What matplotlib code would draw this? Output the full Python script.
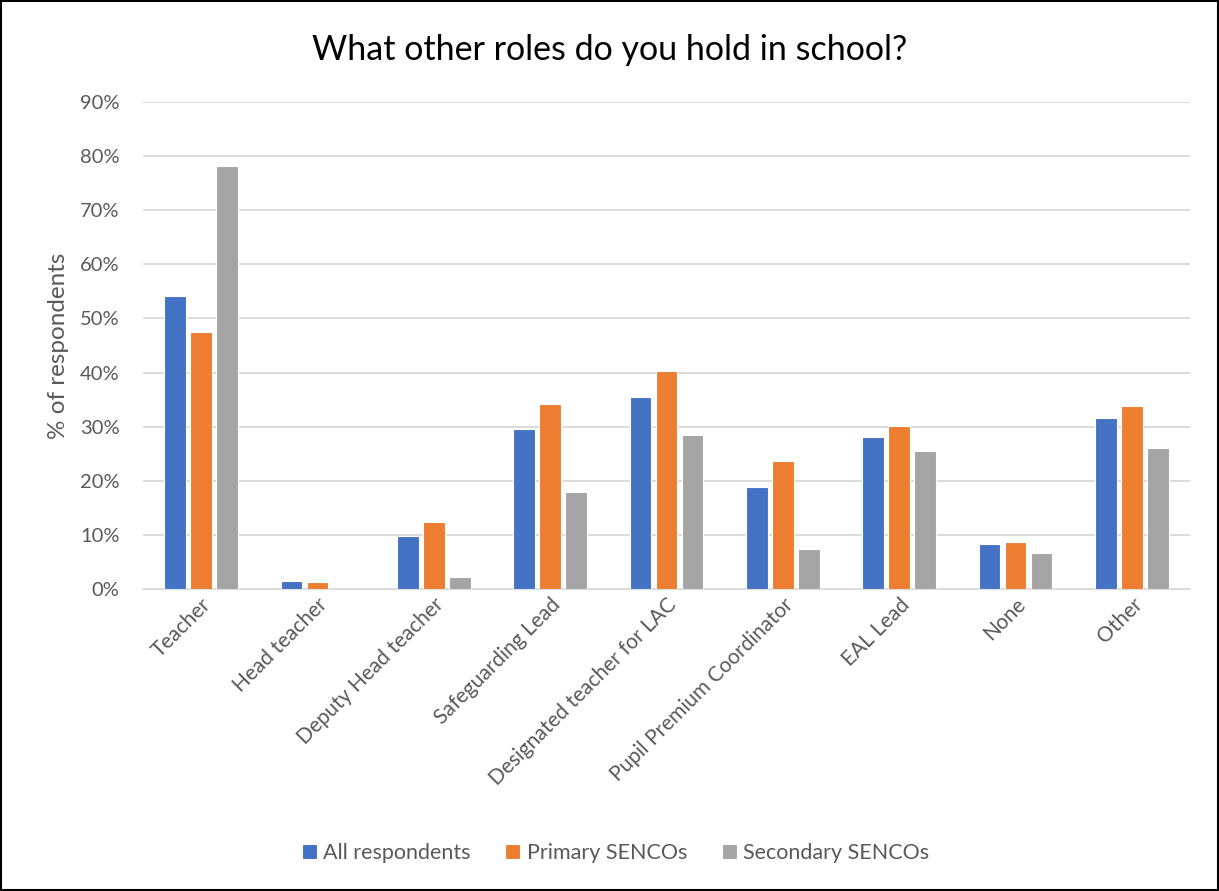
import numpy as np
import matplotlib.pyplot as plt
from matplotlib.patches import Rectangle
from matplotlib.ticker import PercentFormatter

plt.rcParams['font.family'] = ['Lato', 'DejaVu Sans']

categories = ['Teacher', 'Head teacher', 'Deputy Head teacher', 'Safeguarding Lead',
              'Designated teacher for LAC', 'Pupil Premium Coordinator', 'EAL Lead',
              'None', 'Other']
all_respondents = [54.2, 1.5, 9.7, 29.6, 35.4, 18.9, 28.1, 8.3, 31.6]
primary_sencos = [47.5, 1.3, 12.3, 34.1, 40.2, 23.6, 30.1, 8.7, 33.8]
secondary_sencos = [78.1, 0.0, 2.2, 17.9, 28.4, 7.3, 25.5, 6.7, 26.1]

series = [
    ('All respondents', all_respondents, '#4472C4'),
    ('Primary SENCOs', primary_sencos, '#ED7D31'),
    ('Secondary SENCOs', secondary_sencos, '#A5A5A5'),
]

fig = plt.figure(figsize=(12.19, 8.91), dpi=100)
ax = fig.add_axes([0.1173, 0.339, 0.8589, 0.5465])

x = np.arange(len(categories))
step = 0.223
width = 0.185
for i, (name, vals, color) in enumerate(series):
    ax.bar(x + (i - 1) * step, vals, width=width, color=color,
           edgecolor='white', linewidth=0.8, label=name, zorder=3)

ax.set_xlim(-0.5, len(categories) - 0.5)
ax.set_ylim(0, 90)
ax.set_yticks(range(0, 91, 10))
ax.yaxis.set_major_formatter(PercentFormatter(decimals=0))
ax.yaxis.grid(True, color='#D9D9D9', linewidth=1.3, zorder=0)
ax.set_axisbelow(True)

for side in ['top', 'right', 'left']:
    ax.spines[side].set_visible(False)
ax.spines['bottom'].set_color('#D9D9D9')
ax.spines['bottom'].set_linewidth(1.3)

ax.tick_params(axis='y', length=0, labelsize=14.5, labelcolor='#595959', pad=17)
ax.tick_params(axis='x', length=0, labelsize=15, labelcolor='#595959', pad=4)
ax.set_xticks(x)
ax.set_xticklabels(categories, rotation=45, ha='right', rotation_mode='anchor')

ax.set_ylabel('% of respondents', fontsize=17.5, color='#595959', labelpad=8)

fig.text(0.5, 0.944, 'What other roles do you hold in school?', ha='center', va='center',
         fontsize=24.5, color='black')

ax.legend(loc='center', bbox_to_anchor=(0.505, 0.043), bbox_transform=fig.transFigure,
          ncol=3, frameon=False, fontsize=15.5, labelcolor='#595959',
          handlelength=0.7, handleheight=0.7, handletextpad=0.3, columnspacing=1.6)

# thin black frame round the whole chart
fig.patches.append(Rectangle((0.001, 0.001), 0.998, 0.998, transform=fig.transFigure,
                             fill=False, edgecolor='black', linewidth=1.5))

fig.savefig('out.png', dpi=100)
